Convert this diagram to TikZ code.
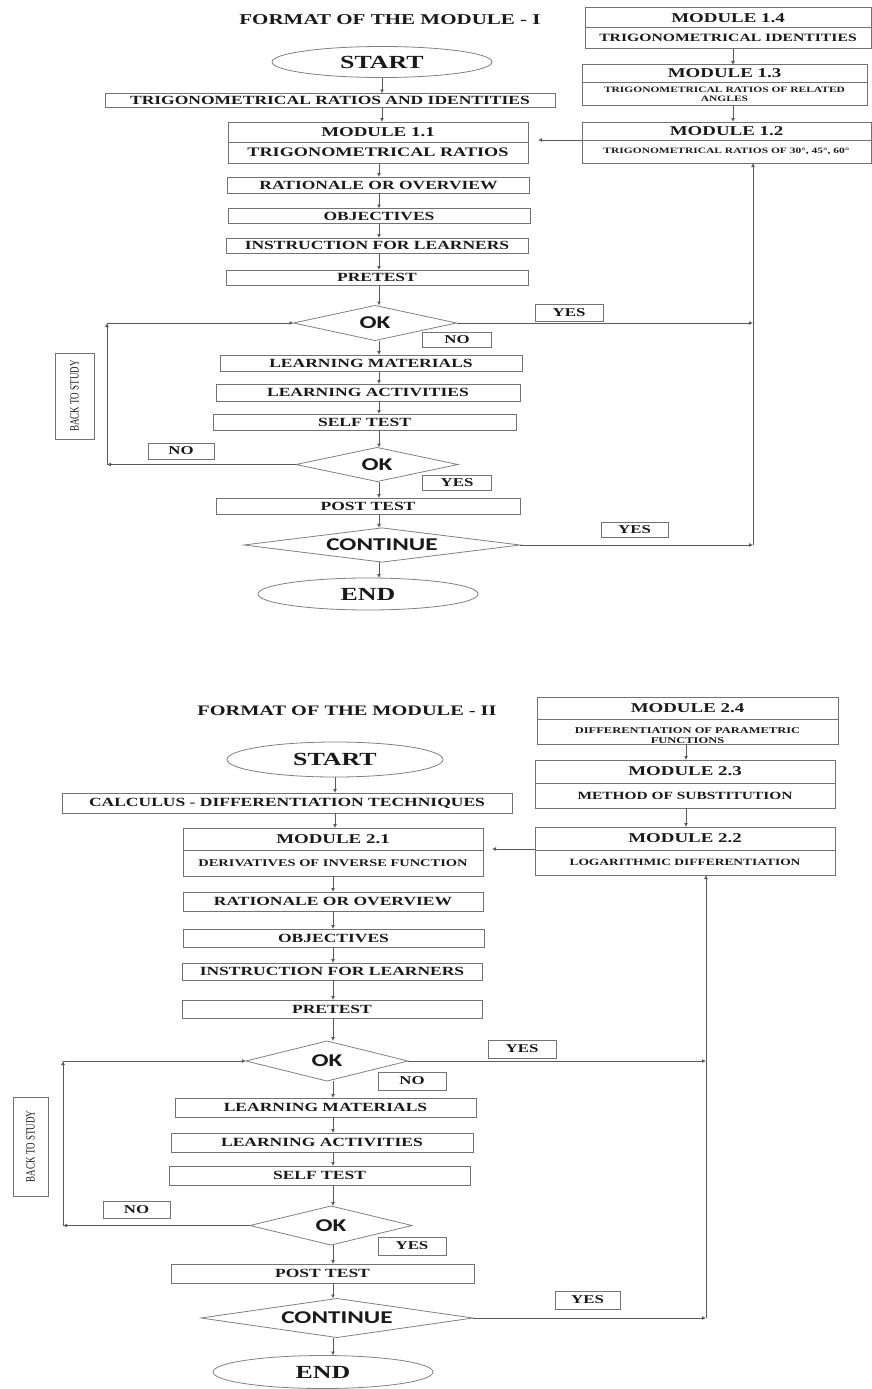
\documentclass[tikz,border=0pt]{standalone}
\usepackage{fontspec}
\setmainfont{Liberation Serif}
\newfontfamily\bxf[FakeStretch=1.4]{Liberation Serif}
\newfontfamily\sxf[FakeStretch=1.4]{Carlito}
\usetikzlibrary{shapes.geometric,arrows.meta}
\tikzset{
  every node/.style={inner sep=0pt, outer sep=0pt, text=black!90},
  sz/.style 2 args={minimum width=#1, minimum height=#2},
  box/.style={draw=black!55, line width=1pt, rectangle, font=\bxf\bfseries\fontsize{12.5}{14}\selectfont},
  lbl/.style={draw=black!55, line width=1pt, rectangle, font=\bxf\bfseries\fontsize{12}{14}\selectfont},
  modbox/.style={draw=black!55, line width=1pt, rectangle},
  mh/.style={font=\bxf\bfseries\fontsize{13.5}{15}\selectfont},
  dec/.style={diamond, draw=black!50, line width=0.8pt, aspect=5, font=\sxf\bfseries\fontsize{18}{20}\selectfont},
  term/.style={ellipse, draw=black!50, line width=0.8pt, font=\bxf\bfseries\fontsize{18.5}{20}\selectfont},
  ttl/.style={font=\bxf\bfseries\fontsize{15}{17}\selectfont},
  arr/.style={draw=black!65, line width=1pt, -{Latex[length=4pt,width=4pt]}},
  divl/.style={draw=black!55, line width=0.8pt},
  bts/.style={draw=black!55, line width=1pt, rectangle},
}
\newcommand{\btstext}{\scalebox{1.4}[1]{\rotatebox{90}{\fontsize{9}{10}\selectfont BACK TO STUDY}}}
\begin{document}
\begin{tikzpicture}[x=1pt,y=-1pt]
\useasboundingbox (0,0) rectangle (872,1389);
% ================= MODULE I =================
\node[ttl] (title1) at (390,20) {FORMAT OF THE MODULE - I};
\node[term, sz={220}{31}] (start1) at (382,62) {START};
\node[box, sz={450}{14}] (tri) at (330,100.5) {TRIGONOMETRICAL RATIOS AND IDENTITIES};
% module 1.1
\node[modbox, sz={300}{41}] (m11) at (378,142.5) {};
\draw[divl] ([yshift=0.5pt]m11.west) -- ([yshift=0.5pt]m11.east);
\node[mh] (m11a) at (378,132) {MODULE 1.1};
\node[font=\bxf\bfseries\fontsize{13}{15}\selectfont] (m11b) at (378,152.5) {TRIGONOMETRICAL RATIOS};
% right modules
\node[modbox, sz={286}{41}] (m14) at (728,28.5) {};
\draw[divl] ([yshift=1.5pt]m14.west) -- ([yshift=1.5pt]m14.east);
\node[mh] (m14a) at (728,18) {MODULE 1.4};
\node[font=\bxf\bfseries\fontsize{11.2}{13}\selectfont] (m14b) at (728,38) {TRIGONOMETRICAL IDENTITIES};
\node[modbox, sz={285}{40}] (m13) at (724.5,85) {};
\draw[divl] ([yshift=3pt]m13.west) -- ([yshift=3pt]m13.east);
\node[mh] (m13a) at (724.5,73) {MODULE 1.3};
\node[font=\bxf\bfseries\fontsize{8.2}{9.2}\selectfont, align=center] (m13b) at (724.5,94) {TRIGONOMETRICAL RATIOS OF RELATED\\ANGLES};
\node[modbox, sz={289}{41}] (m12) at (726.5,142.5) {};
\draw[divl] ([yshift=2.5pt]m12.west) -- ([yshift=2.5pt]m12.east);
\node[mh] (m12a) at (726.5,131) {MODULE 1.2};
\node[font=\bxf\bfseries\fontsize{8.2}{9}\selectfont] (m12b) at (726.5,151.5) {TRIGONOMETRICAL RATIOS OF 30°, 45°, 60°};
% column boxes
\node[box, sz={302}{16}] (rat1) at (378.5,185) {RATIONALE OR OVERVIEW};
\node[box, sz={302}{15}] (obj1) at (379,216) {OBJECTIVES};
\node[box, sz={302}{15}] (ins1) at (377,245.5) {INSTRUCTION FOR LEARNERS};
\node[box, sz={302}{15}] (pre1) at (377,277.5) {PRETEST};
\node[dec, sz={163}{35}] (ok1) at (375,323) {OK};
\node[lbl, sz={69}{15}] (no1) at (457,340) {NO};
\node[lbl, sz={68}{17}] (yes1) at (569,312.5) {YES};
\node[box, sz={302}{16}] (lm1) at (371,363) {LEARNING MATERIALS};
\node[box, sz={304}{17}] (la1) at (368,392.5) {LEARNING ACTIVITIES};
\node[box, sz={303}{16}] (st1) at (364.5,422) {SELF TEST};
\node[dec, sz={162}{34}] (ok2) at (377,464.5) {OK};
\node[lbl, sz={66}{16}] (nol1) at (181,451) {NO};
\node[lbl, sz={69}{15}] (yes2) at (457,482.5) {YES};
\node[box, sz={304}{16}] (pt1) at (368,506) {POST TEST};
\node[dec, sz={276}{34}] (cont1) at (382,545) {CONTINUE};
\node[term, sz={220}{32}] (end1) at (368,594) {END};
\node[lbl, sz={67}{15}] (yes3) at (634.5,529.5) {YES};
\node[bts, sz={39}{86}] (back1) at (74.5,396) {\btstext};
% connectors
\coordinate (c0) at (382,0);
\coordinate (c1) at (379,0);
\coordinate (r1) at (753,0);
\coordinate (l1) at (107,0);
\coordinate (cr1) at (733,0);
\draw[arr] (start1.south -| c0) -- (tri.north -| c0);
\draw[arr] (tri.south -| c0) -- (m11.north -| c0);
\draw[arr] (m11.south -| c1) -- (rat1.north -| c1);
\draw[arr] (rat1.south -| c1) -- (obj1.north -| c1);
\draw[arr] (obj1.south -| c1) -- (ins1.north -| c1);
\draw[arr] (ins1.south -| c1) -- (pre1.north -| c1);
\draw[arr] (pre1.south -| c1) -- (ok1.north -| c1);
\draw[arr] (ok1.south -| c1) -- (lm1.north -| c1);
\draw[arr] (lm1.south -| c1) -- (la1.north -| c1);
\draw[arr] (la1.south -| c1) -- (st1.north -| c1);
\draw[arr] (st1.south -| c1) -- (ok2.north -| c1);
\draw[arr] (ok2.south -| c1) -- (pt1.north -| c1);
\draw[arr] (pt1.south -| c1) -- (cont1.north -| c1);
\draw[arr] (cont1.south -| c1) -- (end1.north -| c1);
\draw[arr] (m14.south -| cr1) -- (m13.north -| cr1);
\draw[arr] (m13.south -| cr1) -- (m12.north -| cr1);
\draw[arr] ([yshift=2.5pt]m12.west) -- ([xshift=10pt,yshift=2.5pt]m11.east);
\draw[arr] (ok1.east) -- (ok1.east -| r1);
\draw[arr] (cont1.east) -- (cont1.east -| r1);
\draw[arr] (cont1.east -| r1) -- (m12.south -| r1);
\draw[arr] (ok2.west) -- (ok2.west -| l1);
\draw[arr] (ok2.west -| l1) -- (ok1.west -| l1);
\draw[arr] (ok1.west -| l1) -- (ok1.west);
% ================= MODULE II =================
\node[ttl, font=\bxf\bfseries\fontsize{14.5}{16}\selectfont] (title2) at (347,711) {FORMAT OF THE MODULE - II};
\node[term, sz={216}{35}] (start2) at (335,759.5) {START};
\node[box, sz={450}{20}] (calc) at (287,803) {CALCULUS - DIFFERENTIATION TECHNIQUES};
\node[modbox, sz={300}{48}] (m21) at (333,852) {};
\draw[divl] ([yshift=2pt]m21.west) -- ([yshift=2pt]m21.east);
\node[mh] (m21a) at (333,839) {MODULE 2.1};
\node[font=\bxf\bfseries\fontsize{10.3}{12}\selectfont] (m21b) at (333,863) {DERIVATIVES OF INVERSE FUNCTION};
\node[modbox, sz={301}{47}] (m24) at (687.5,720.5) {};
\draw[divl] ([yshift=1.5pt]m24.west) -- ([yshift=1.5pt]m24.east);
\node[mh] (m24a) at (687.5,708) {MODULE 2.4};
\node[font=\bxf\bfseries\fontsize{8.9}{10}\selectfont, align=center] (m24b) at (687.5,735.5) {DIFFERENTIATION OF PARAMETRIC\\FUNCTIONS};
\node[modbox, sz={300}{48}] (m23) at (685,784) {};
\draw[divl] ([yshift=1pt]m23.west) -- ([yshift=1pt]m23.east);
\node[mh] (m23a) at (685,771.5) {MODULE 2.3};
\node[font=\bxf\bfseries\fontsize{11}{12}\selectfont] (m23b) at (685,795.5) {METHOD OF SUBSTITUTION};
\node[modbox, sz={300}{48}] (m22) at (685,851) {};
\draw[divl] ([yshift=1pt]m22.west) -- ([yshift=1pt]m22.east);
\node[mh] (m22a) at (685,838.5) {MODULE 2.2};
\node[font=\bxf\bfseries\fontsize{9.6}{11}\selectfont] (m22b) at (685,862.5) {LOGARITHMIC DIFFERENTIATION};
\node[box, sz={300}{19}] (rat2) at (333,901.5) {RATIONALE OR OVERVIEW};
\node[box, sz={301}{18}] (obj2) at (333.5,938) {OBJECTIVES};
\node[box, sz={300}{17}] (ins2) at (332,971.5) {INSTRUCTION FOR LEARNERS};
\node[box, sz={300}{18}] (pre2) at (332,1009) {PRETEST};
\node[dec, sz={162}{40}] (ok3) at (327,1061) {OK};
\node[lbl, sz={68}{18}] (yes4) at (522,1049) {YES};
\node[lbl, sz={68}{18}] (no2) at (412,1081) {NO};
\node[box, sz={301}{19}] (lm2) at (325.5,1107.5) {LEARNING MATERIALS};
\node[box, sz={302}{19}] (la2) at (322,1142.5) {LEARNING ACTIVITIES};
\node[box, sz={301}{19}] (st2) at (319.5,1175.5) {SELF TEST};
\node[dec, sz={162}{39}] (ok4) at (331,1225.5) {OK};
\node[lbl, sz={67}{17}] (nol2) at (136.5,1209.5) {NO};
\node[lbl, sz={68}{18}] (yes5) at (412,1246) {YES};
\node[box, sz={303}{19}] (pt2) at (322.5,1273.5) {POST TEST};
\node[dec, sz={272}{39}] (cont2) at (337,1318) {CONTINUE};
\node[term, sz={220}{33}] (end2) at (323,1372) {END};
\node[lbl, sz={65}{18}] (yes6) at (587.5,1300) {YES};
\node[bts, sz={35}{99}] (back2) at (30.5,1146.5) {\btstext};
% connectors
\coordinate (c2) at (333,0);
\coordinate (c3) at (335,0);
\coordinate (r2) at (706,0);
\coordinate (l2) at (63,0);
\coordinate (cr2) at (686,0);
\draw[arr] (start2.south -| c3) -- (calc.north -| c3);
\draw[arr] (calc.south -| c3) -- (m21.north -| c3);
\draw[arr] (m21.south -| c2) -- (rat2.north -| c2);
\draw[arr] (rat2.south -| c2) -- (obj2.north -| c2);
\draw[arr] (obj2.south -| c2) -- (ins2.north -| c2);
\draw[arr] (ins2.south -| c2) -- (pre2.north -| c2);
\draw[arr] (pre2.south -| c2) -- (ok3.north -| c2);
\draw[arr] (ok3.south -| c2) -- (lm2.north -| c2);
\draw[arr] (lm2.south -| c2) -- (la2.north -| c2);
\draw[arr] (la2.south -| c2) -- (st2.north -| c2);
\draw[arr] (st2.south -| c2) -- (ok4.north -| c2);
\draw[arr] (ok4.south -| c2) -- (pt2.north -| c2);
\draw[arr] (pt2.south -| c2) -- (cont2.north -| c2);
\draw[arr] (cont2.south -| c2) -- (end2.north -| c2);
\draw[arr] (m24.south -| cr2) -- (m23.north -| cr2);
\draw[arr] (m23.south -| cr2) -- (m22.north -| cr2);
\draw[arr] ([yshift=2pt]m22.west) -- ([xshift=9pt,yshift=3pt]m21.east);
\draw[arr] (ok3.east) -- (ok3.east -| r2);
\draw[arr] (cont2.east) -- (cont2.east -| r2);
\draw[arr] (cont2.east -| r2) -- (m22.south -| r2);
\draw[arr] (ok4.west) -- (ok4.west -| l2);
\draw[arr] (ok4.west -| l2) -- (ok3.west -| l2);
\draw[arr] (ok3.west -| l2) -- (ok3.west);
\end{tikzpicture}
\end{document}
